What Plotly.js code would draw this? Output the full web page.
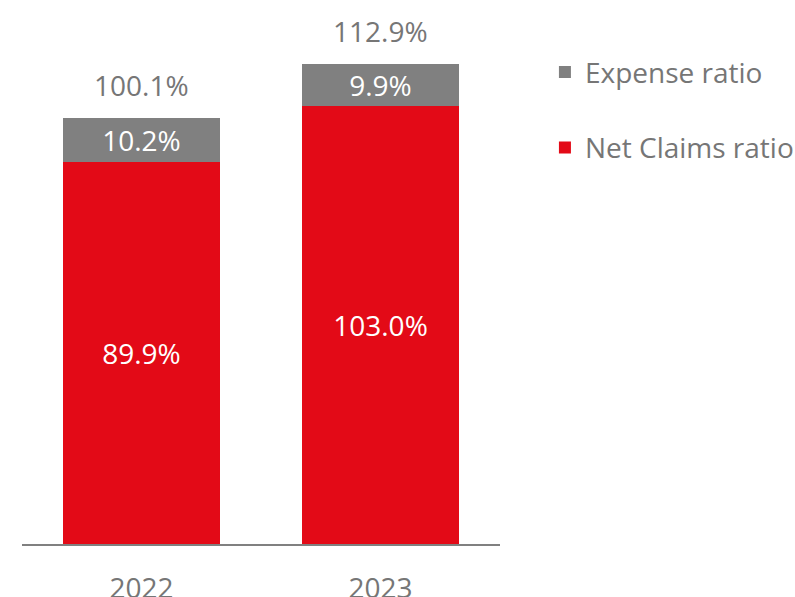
<!DOCTYPE html>
<html>
<head>
<meta charset="utf-8">
<script src="https://cdn.plot.ly/plotly-3.0.1.min.js"></script>
<style>
  body { margin: 0; background: #fff; }
  #ratios { width: 795px; height: 597px; }
</style>
</head>
<body>
<div id="ratios"></div>
<script>
var years = ['2022', '2023'];
var netClaims = [89.9, 103.0];
var expense = [10.2, 9.9];
var combined = [100.1, 112.9];

function pct(v) { return v.toFixed(1) + '%'; }

function ratiosChart() {
  var textGray = '#767676';
  var fs = 28;

  var claims = {
    x: years,
    y: netClaims,
    name: 'Net Claims ratio',
    legendgroup: 'claims',
    legendrank: 2,
    type: 'bar',
    width: 0.66,
    marker: { color: '#e30a17' },
    text: netClaims.map(pct),
    textposition: 'inside',
    insidetextanchor: 'middle',
    constraintext: 'none',
    textangle: 0,
    textfont: { color: '#ffffff', size: fs },
    hoverinfo: 'skip'
  };

  var exp = {
    x: years,
    y: expense,
    name: 'Expense ratio',
    legendgroup: 'expense',
    legendrank: 1,
    type: 'bar',
    width: 0.66,
    marker: { color: '#808080' },
    text: expense.map(pct),
    textposition: 'inside',
    insidetextanchor: 'middle',
    constraintext: 'none',
    textangle: 0,
    textfont: { color: '#ffffff', size: fs },
    hoverinfo: 'skip'
  };

  // totals above each stack (x by category index, since the names look numeric)
  var totals = [];
  for (var i = 0; i < years.length; i++) {
    totals.push({
      x: i,
      y: combined[i],
      text: pct(combined[i]),
      showarrow: false,
      yanchor: 'bottom',
      yshift: 12,
      font: { size: fs, color: textGray }
    });
  }

  var layout = {
    width: 795,
    height: 597,
    margin: { l: 22, r: 295, t: 10, b: 53, autoexpand: false },
    paper_bgcolor: '#ffffff',
    plot_bgcolor: '#ffffff',
    font: { family: '"Open Sans", sans-serif', color: textGray, size: fs },
    barmode: 'stack',
    showlegend: true,
    legend: {
      x: 1.094,
      xanchor: 'left',
      y: 0.93,
      yanchor: 'top',
      traceorder: 'grouped',
      tracegroupgap: 36,
      font: { size: fs, color: textGray },
      bgcolor: 'rgba(0,0,0,0)'
    },
    xaxis: {
      type: 'category',
      range: [-0.5, 1.5],
      showline: true,
      linecolor: '#808080',
      linewidth: 2,
      ticks: '',
      ticklabelstandoff: 18,
      showgrid: false,
      zeroline: false,
      tickfont: { size: fs, color: textGray },
      fixedrange: true
    },
    yaxis: {
      range: [0, 125.6],
      visible: false,
      showgrid: false,
      zeroline: false,
      fixedrange: true
    },
    annotations: totals
  };

  Plotly.newPlot('ratios', [claims, exp], layout, { displayModeBar: false, staticPlot: true });
}

ratiosChart();
</script>
</body>
</html>
